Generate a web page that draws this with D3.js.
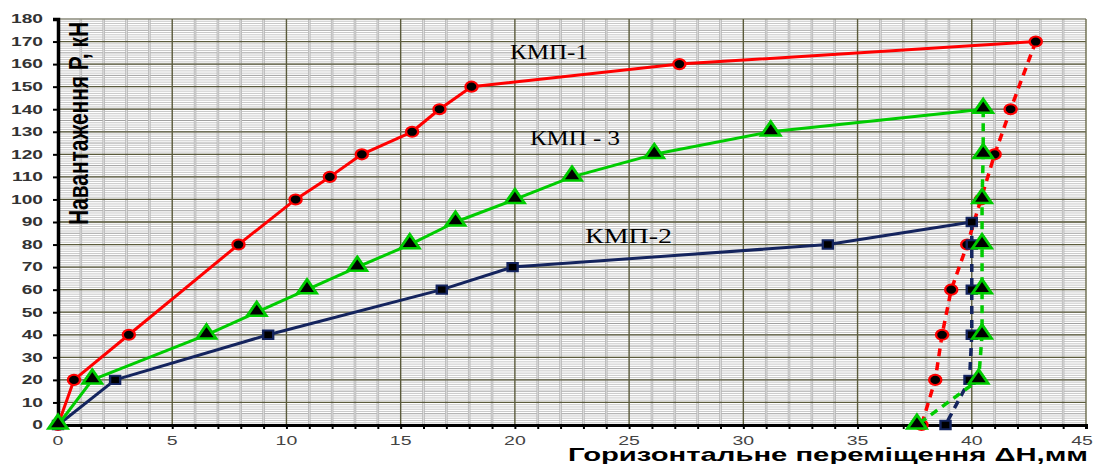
<!DOCTYPE html>
<html>
<head>
<meta charset="utf-8">
<script src="https://cdnjs.cloudflare.com/ajax/libs/d3/7.8.5/d3.min.js"></script>
<style>
  html, body { margin: 0; padding: 0; background: #fff; }
  svg { display: block; }
</style>
</head>
<body>
<div id="chart"></div>
<script>
/* chart data */
const xTicks = [0, 5, 10, 15, 20, 25, 30, 35, 40, 45];
const yTicks = [0, 10, 20, 30, 40, 50, 60, 70, 80, 90, 100, 110, 120, 130, 140, 150, 160, 170, 180];

/* КМП-1 */
const kmp1X = [0, 0.7, 3.1, 7.9, 10.4, 11.9, 13.3, 15.5, 16.7, 18.1, 27.2, 42.8];
const kmp1P = [0, 20, 40, 80, 100, 110, 120, 130, 140, 150, 160, 170];
const kmp1BackX = [42.8, 41.7, 41.0, 40.4, 39.8, 39.1, 38.7, 38.4, 37.8];
const kmp1BackP = [170, 140, 120, 100, 80, 60, 40, 20, 0];

/* КМП-2 */
const kmp2X = [0, 2.5, 9.2, 16.8, 19.9, 33.7, 40.0];
const kmp2P = [0, 20, 40, 60, 70, 80, 90];
const kmp2BackX = [40.0, 40.0, 40.0, 40.0, 39.9, 38.85];
const kmp2BackP = [90, 80, 60, 40, 20, 0];

/* КМП-3 */
const kmp3X = [0, 1.5, 6.5, 8.7, 10.9, 13.1, 15.4, 17.4, 20.0, 22.5, 26.1, 31.2, 40.5];
const kmp3P = [0, 20, 40, 50, 60, 70, 80, 90, 100, 110, 120, 130, 140];
const kmp3BackX = [40.5, 40.5, 40.45, 40.45, 40.45, 40.45, 40.3, 37.6];
const kmp3BackP = [140, 120, 100, 80, 60, 40, 20, 0];

const seriesNames = ['КМП-1', 'КМП-2', 'КМП - 3'];

let
  width = 1095,
  height = 464,
  plot = {left: 58, right: 1086, top: 19, bottom: 425}
;

let svg =
  d3.select('#chart')
  .append('svg')
  .attr('width', width)
  .attr('height', height);

let x = d3.scaleLinear().domain([0, 45]).range([plot.left, plot.right]);
let y = d3.scaleLinear().domain([0, 180]).range([plot.bottom, plot.top]);

/*grid*/
let grid = svg.append('g');

// dense minor horizontal lines, every 1 kN
grid.selectAll('.hmin')
  .data(d3.range(1, 180))
  .enter()
  .append('line')
  .attr('x1', plot.left).attr('x2', plot.right)
  .attr('y1', d => y(d)).attr('y2', d => y(d))
  .attr('stroke', d => d % 5 === 0 ? '#a0a0a0' : '#c8c8c8')
  .attr('stroke-width', 1);

// minor vertical lines, every 1 mm
let minorX = d3.range(1, 45).filter(d => d % 5 !== 0);

grid.selectAll('.vmin')
  .data(minorX)
  .enter()
  .append('line')
  .attr('y1', plot.top).attr('y2', plot.bottom)
  .attr('x1', d => x(d)).attr('x2', d => x(d))
  .attr('stroke', '#b4b4b4')
  .attr('stroke-width', 2.5);

grid.selectAll('.vmin2')
  .data(minorX)
  .enter()
  .append('line')
  .attr('y1', plot.top).attr('y2', plot.bottom)
  .attr('x1', d => x(d)).attr('x2', d => x(d))
  .attr('stroke', '#e6e6e6')
  .attr('stroke-width', 0.8);

// major lines
grid.selectAll('.hmaj')
  .data(yTicks.slice(1))
  .enter()
  .append('line')
  .attr('x1', plot.left).attr('x2', plot.right)
  .attr('y1', d => y(d)).attr('y2', d => y(d))
  .attr('stroke', d => d === 180 ? '#8a8a7a' : '#5b5b3c')
  .attr('stroke-width', 1.3);

grid.selectAll('.vmaj')
  .data(xTicks.slice(1))
  .enter()
  .append('line')
  .attr('y1', plot.top).attr('y2', plot.bottom)
  .attr('x1', d => x(d)).attr('x2', d => x(d))
  .attr('stroke', d => d === 45 ? '#6b6b4c' : '#5b5b3c')
  .attr('stroke-width', 1.4);

/*axes*/
let xAxis =
  svg.append('g')
  .attr('transform', `translate(0,${plot.bottom})`)
  .call(d3.axisBottom(x).tickValues(d3.range(0, 46)).tickSize(4).tickFormat(''));
xAxis.select('.domain').attr('stroke', '#000').attr('stroke-width', 3);
xAxis.selectAll('.tick line').attr('stroke', '#000').attr('stroke-width', 2);

let yAxis =
  svg.append('g')
  .attr('transform', `translate(${plot.left},0)`)
  .call(d3.axisLeft(y).tickValues(yTicks).tickSize(5).tickFormat(''));
yAxis.select('.domain').attr('stroke', '#000').attr('stroke-width', 3.5);
yAxis.selectAll('.tick line').attr('stroke', '#000').attr('stroke-width', 2);

/*tick labels*/
svg.append('g')
  .selectAll('text')
  .data(yTicks)
  .enter()
  .append('text')
  .attr('transform', d => `translate(43,${y(d) + 4.3}) scale(1.6,1)`)
  .attr('text-anchor', 'end')
  .attr('font-family', 'Liberation Sans, Arial, sans-serif')
  .attr('font-weight', 'bold')
  .attr('font-size', 12)
  .attr('fill', '#333')
  .text(d => d);

// last label sits against the right edge, as in the picture
svg.append('g')
  .selectAll('text')
  .data(xTicks)
  .enter()
  .append('text')
  .attr('transform', d => `translate(${Math.min(x(d), width - 13)},445) scale(1.5,1)`)
  .attr('text-anchor', 'middle')
  .attr('font-family', 'Liberation Sans, Arial, sans-serif')
  .attr('font-size', 13)
  .attr('fill', '#444')
  .text(d => d);

/*axis titles*/
svg.append('text')
  .attr('transform', 'translate(88,225) scale(1.5,1) rotate(-90)')
  .attr('font-family', 'Liberation Sans, Arial, sans-serif')
  .attr('font-weight', 'bold')
  .attr('font-size', 18)
  .attr('textLength', 203)
  .attr('lengthAdjust', 'spacingAndGlyphs')
  .attr('fill', '#000')
  .text('Навантаження Р, кН');

svg.append('text')
  .attr('x', 568)
  .attr('y', 461)
  .attr('font-family', 'Liberation Sans, Arial, sans-serif')
  .attr('font-weight', 'bold')
  .attr('font-size', 19)
  .attr('textLength', 520)
  .attr('lengthAdjust', 'spacingAndGlyphs')
  .attr('fill', '#000')
  .text('Горизонтальне  переміщення ΔН,мм');

/*series*/
let line = d3.line().x(d => x(d[0])).y(d => y(d[1]));
let zip = (a, b) => a.map((v, i) => [v, b[i]]);

let series = [
  {color: '#ff0000', mark: 'circle', up: zip(kmp1X, kmp1P), back: zip(kmp1BackX, kmp1BackP)},
  {color: '#14245e', mark: 'square', up: zip(kmp2X, kmp2P), back: zip(kmp2BackX, kmp2BackP)},
  {color: '#00cc00', mark: 'triangle', up: zip(kmp3X, kmp3P), back: zip(kmp3BackX, kmp3BackP)}
];

let symbols = {
  circle: d3.symbol().type(d3.symbolCircle).size(80),
  square: d3.symbol().type(d3.symbolSquare).size(70),
  triangle: d3.symbol().type(d3.symbolTriangle).size(110)
};

series.forEach(s => {
  let g = svg.append('g');

  g.append('path')
    .attr('d', line(s.up))
    .attr('fill', 'none')
    .attr('stroke', s.color)
    .attr('stroke-width', 3)
    .attr('stroke-linejoin', 'round');

  g.append('path')
    .attr('d', line(s.back))
    .attr('fill', 'none')
    .attr('stroke', s.color)
    .attr('stroke-width', 3.5)
    .attr('stroke-dasharray', '8,6');

  // markers are a little wider than tall in the picture
  g.selectAll('path.mark')
    .data(s.up.concat(s.back.slice(1)))
    .enter()
    .append('path')
    .attr('class', 'mark')
    .attr('d', symbols[s.mark])
    .attr('transform', d => `translate(${x(d[0])},${y(d[1]) + (s.mark === 'triangle' ? -1 : 0)}) scale(1.2,1)`)
    .attr('fill', '#000')
    .attr('stroke', s.color)
    .attr('stroke-width', s.mark === 'triangle' ? 2.5 : 2);
});

/*series labels*/
let labels = [
  {name: seriesNames[0], x: 510, y: 59, w: 78},
  {name: seriesNames[2], x: 530, y: 145, w: 90},
  {name: seriesNames[1], x: 585, y: 243, w: 87}
];

svg.append('g')
  .selectAll('text')
  .data(labels)
  .enter()
  .append('text')
  .attr('x', d => d.x)
  .attr('y', d => d.y)
  .attr('font-family', 'Liberation Serif, Times New Roman, serif')
  .attr('font-size', 21)
  .attr('textLength', d => d.w)
  .attr('lengthAdjust', 'spacingAndGlyphs')
  .attr('fill', '#000')
  .text(d => d.name);
</script>
</body>
</html>
